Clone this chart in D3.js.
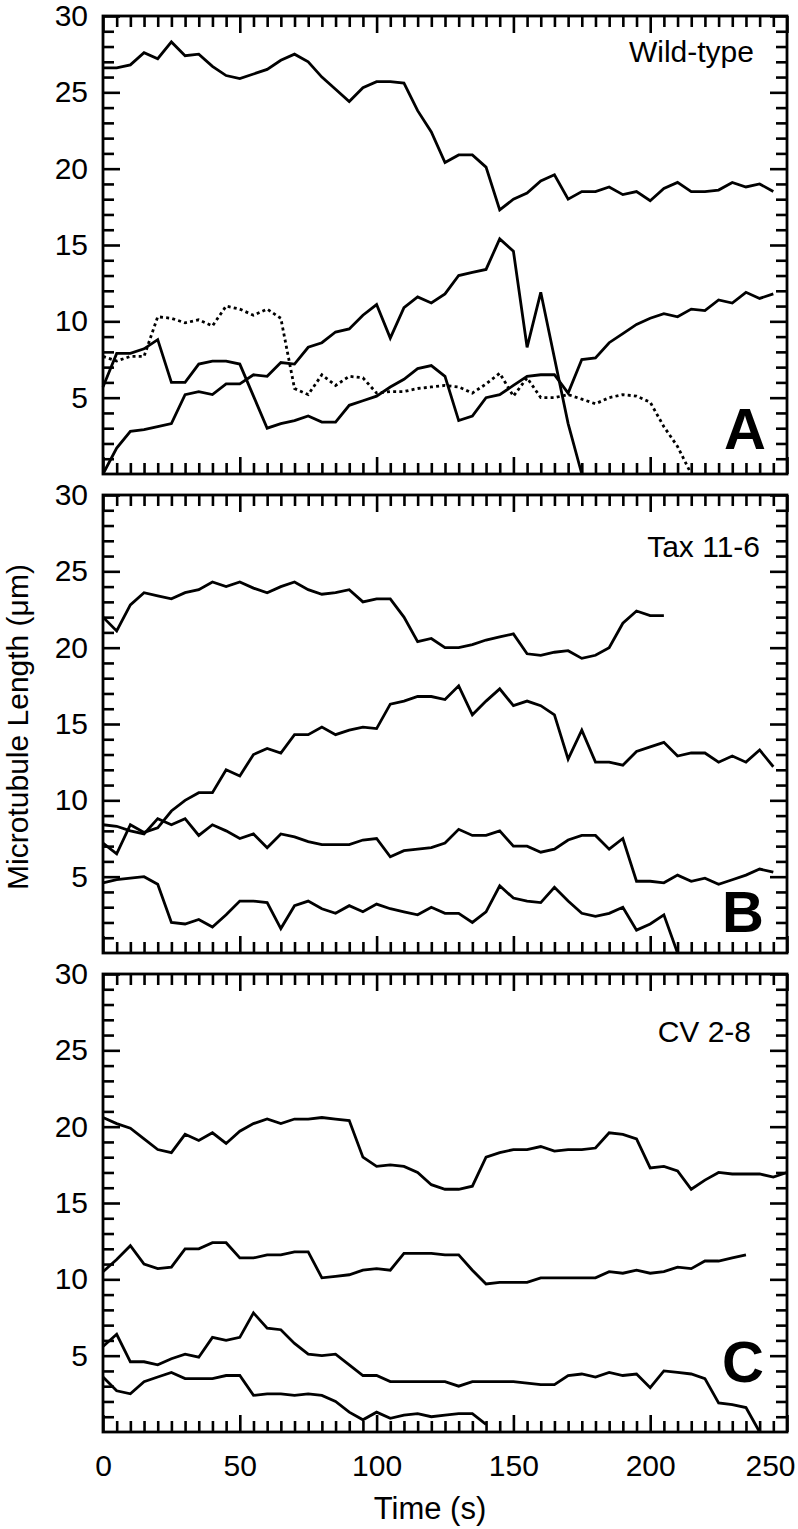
<!DOCTYPE html>
<html>
<head>
<meta charset="utf-8">
<script src="https://cdn.jsdelivr.net/npm/d3@7"></script>
<style>
  body { margin: 0; background: #fff; }
  text { font-family: "Liberation Sans", Arial, Helvetica, sans-serif; fill: #000; }
</style>
</head>
<body>
<svg id="chart"></svg>
<script>
// sample times (s), one point every 5 s
var time = [0, 5, 10, 15, 20, 25, 30, 35, 40, 45, 50, 55, 60, 65, 70, 75, 80, 85, 90, 95,
            100, 105, 110, 115, 120, 125, 130, 135, 140, 145, 150, 155, 160, 165, 170, 175,
            180, 185, 190, 195, 200, 205, 210, 215, 220, 225, 230, 235, 240, 245, 250];

// microtubule lengths (um), panel A wild-type
var wt1 = [26.6, 26.6, 26.8, 27.6, 27.2, 28.3, 27.4, 27.5, 26.7, 26.1,
           25.9, 26.2, 26.5, 27.1, 27.5, 27.0, 26.0, 25.2, 24.4, 25.3,
           25.7, 25.7, 25.6, 23.8, 22.4, 20.4, 20.9, 20.9, 20.1, 17.3,
           18.0, 18.4, 19.2, 19.6, 18.0, 18.5, 18.5, 18.8, 18.3, 18.5,
           17.9, 18.7, 19.1, 18.5, 18.5, 18.6, 19.1, 18.8, 19.0, 18.5];
var wt2 = [5.7, 7.9, 7.9, 8.2, 8.8, 6.0, 6.0, 7.2, 7.4, 7.4,
           7.2, 5.1, 3.0, 3.3, 3.5, 3.8, 3.4, 3.4, 4.5, 4.8,
           5.1, 5.7, 6.2, 6.9, 7.1, 6.4, 3.5, 3.8, 5.0, 5.2,
           5.8, 6.4, 6.5, 6.5, 5.3, 7.5, 7.6, 8.6, 9.2, 9.8,
           10.2, 10.5, 10.3, 10.8, 10.7, 11.4, 11.2, 11.9, 11.5, 11.8];
var wt3 = [0, 1.7, 2.8, 2.9, 3.1, 3.3, 5.2, 5.4, 5.2, 5.9,
           5.9, 6.5, 6.4, 7.3, 7.2, 8.3, 8.6, 9.3, 9.5, 10.4,
           11.1, 8.9, 10.9, 11.6, 11.2, 11.8, 13.0, 13.2, 13.4, 15.4,
           14.6, 8.3, 11.9, 7.6, 3.3, 0];
var wt4 = [7.7, 7.4, 7.7, 7.7, 10.3, 10.2, 9.9, 10.1, 9.7, 11.0,
           10.8, 10.4, 10.8, 10.2, 5.6, 5.2, 6.5, 5.8, 6.4, 6.3,
           5.3, 5.4, 5.4, 5.6, 5.7, 5.8, 5.7, 5.3, 5.9, 6.6,
           5.1, 6.3, 5.0, 5.0, 5.2, 4.9, 4.6, 5.0, 5.2, 5.1,
           4.7, 3.1, 1.8, 0];

// panel B, Tax 11-6
var tax1 = [22.0, 21.1, 22.8, 23.6, 23.4, 23.2, 23.6, 23.8, 24.3, 24.0,
            24.3, 23.9, 23.6, 24.0, 24.3, 23.8, 23.5, 23.6, 23.8, 23.0,
            23.2, 23.2, 22.0, 20.4, 20.6, 20.0, 20.0, 20.2, 20.5, 20.7,
            20.9, 19.6, 19.5, 19.7, 19.8, 19.3, 19.5, 20.0, 21.6, 22.4,
            22.1, 22.1];
var tax2 = [7.2, 6.5, 8.4, 7.9, 8.2, 9.3, 10.0, 10.5, 10.5, 12.0,
            11.6, 13.0, 13.4, 13.1, 14.3, 14.3, 14.8, 14.3, 14.6, 14.8,
            14.7, 16.3, 16.5, 16.8, 16.8, 16.6, 17.5, 15.6, 16.5, 17.3,
            16.2, 16.5, 16.2, 15.6, 12.7, 14.6, 12.5, 12.5, 12.3, 13.2,
            13.5, 13.8, 12.9, 13.1, 13.1, 12.5, 12.9, 12.5, 13.3, 12.2];
var tax3 = [8.4, 8.3, 8.0, 7.8, 8.8, 8.4, 8.8, 7.7, 8.4, 8.0,
            7.5, 7.8, 6.9, 7.8, 7.6, 7.3, 7.1, 7.1, 7.1, 7.4,
            7.5, 6.3, 6.7, 6.8, 6.9, 7.2, 8.1, 7.7, 7.7, 8.0,
            7.0, 7.0, 6.6, 6.8, 7.4, 7.7, 7.7, 6.8, 7.5, 4.7,
            4.7, 4.6, 5.1, 4.7, 4.9, 4.5, 4.8, 5.1, 5.5, 5.3];
var tax4 = [4.6, 4.8, 4.9, 5.0, 4.5, 2.0, 1.9, 2.2, 1.7, 2.5,
            3.4, 3.4, 3.3, 1.6, 3.1, 3.4, 2.9, 2.6, 3.1, 2.7,
            3.2, 2.9, 2.7, 2.5, 3.0, 2.6, 2.6, 2.0, 2.7, 4.4,
            3.6, 3.4, 3.3, 4.3, 3.4, 2.6, 2.4, 2.6, 3.0, 1.5,
            1.9, 2.5, 0];

// panel C, CV 2-8
var cv1 = [20.6, 20.2, 19.9, 19.2, 18.5, 18.3, 19.5, 19.1, 19.6, 18.9,
           19.7, 20.2, 20.5, 20.2, 20.5, 20.5, 20.6, 20.5, 20.4, 18.0,
           17.4, 17.5, 17.4, 17.0, 16.2, 15.9, 15.9, 16.1, 18.0, 18.3,
           18.5, 18.5, 18.7, 18.4, 18.5, 18.5, 18.6, 19.6, 19.5, 19.2,
           17.3, 17.4, 17.1, 15.9, 16.5, 17.0, 16.9, 16.9, 16.9, 16.7, 17.0];
var cv2 = [10.5, 11.3, 12.2, 11.0, 10.7, 10.8, 12.0, 12.0, 12.4, 12.4,
           11.4, 11.4, 11.6, 11.6, 11.8, 11.8, 10.1, 10.2, 10.3, 10.6,
           10.7, 10.6, 11.7, 11.7, 11.7, 11.6, 11.6, 10.6, 9.7, 9.8,
           9.8, 9.8, 10.1, 10.1, 10.1, 10.1, 10.1, 10.5, 10.4, 10.6,
           10.4, 10.5, 10.8, 10.7, 11.2, 11.2, 11.4, 11.6];
var cv3 = [5.6, 6.4, 4.6, 4.6, 4.4, 4.8, 5.1, 4.9, 6.2, 6.0,
           6.2, 7.8, 6.8, 6.7, 5.8, 5.1, 5.0, 5.1, 4.4, 3.7,
           3.7, 3.3, 3.3, 3.3, 3.3, 3.3, 3.0, 3.3, 3.3, 3.3,
           3.3, 3.2, 3.1, 3.1, 3.7, 3.8, 3.6, 3.9, 3.7, 3.8,
           2.9, 4.0, 3.9, 3.8, 3.5, 1.9, 1.8, 1.6, 0];
var cv4 = [3.6, 2.7, 2.5, 3.3, 3.6, 3.9, 3.5, 3.5, 3.5, 3.7,
           3.7, 2.4, 2.5, 2.5, 2.4, 2.5, 2.4, 2.0, 1.3, 0.8,
           1.3, 0.9, 1.1, 1.2, 1.0, 1.1, 1.2, 1.2, 0.5];

var panelNames = ["Wild-type", "Tax 11-6", "CV 2-8"];
var panelLetters = ["A", "B", "C"];
var xTicks = [0, 50, 100, 150, 200, 250];
var yTicks = [5, 10, 15, 20, 25, 30];

var panels = [
    {series: [wt1, wt2, wt3, wt4], dotted: [false, false, false, true]},
    {series: [tax1, tax2, tax3, tax4], dotted: [false, false, false, false]},
    {series: [cv1, cv2, cv3, cv4], dotted: [false, false, false, false]}
];

var width = 798, height = 1529,
    left = 103, right = 787,
    panelH = 458,
    panelTops = [16, 495, 974],
    nameY = [46, 62, 68], nameX = [754, 760, 751],
    letterY = [433, 437, 408], letterX = [766, 764, 764],
    minorLen = 11, majorLen = 17,
    lw = 2.8;

var svg = d3.select("#chart")
    .attr("width", width)
    .attr("height", height);

var x = d3.scaleLinear().domain([0, 250]).range([left, right]);

function tickGroup(g, axis, tx, ty, values, len, labels, pad) {
    var a = g.append("g")
        .attr("transform", "translate(" + tx + "," + ty + ")")
        .call(axis.tickValues(values)
            .tickSizeInner(-len)
            .tickSizeOuter(0)
            .tickPadding(pad || 0)
            .tickFormat(labels ? d3.format("d") : ""));
    a.select(".domain").remove();
    a.selectAll("line").attr("stroke", "#000").attr("stroke-width", 2.6);
    a.selectAll("text").attr("font-size", 30).attr("fill", "#000");
    return a;
}

panels.forEach(function (p, i) {
    var top = panelTops[i],
        bottom = top + panelH;
    var y = d3.scaleLinear().domain([0, 30]).range([bottom, top]);
    var g = svg.append("g");

    var minorY = d3.range(0, 31).filter(function (v) { return v % 5 !== 0; }),
        minorX = d3.range(0, 251, 5).filter(function (v) { return v % 50 !== 0; });

    // ticks on all four sides, pointing in
    tickGroup(g, d3.axisLeft(y), left, 0, minorY, minorLen);
    tickGroup(g, d3.axisLeft(y), left, 0, yTicks, majorLen, true, 15);
    tickGroup(g, d3.axisRight(y), right, 0, minorY, minorLen);
    tickGroup(g, d3.axisRight(y), right, 0, yTicks, majorLen);
    tickGroup(g, d3.axisTop(x), 0, top, minorX, minorLen);
    tickGroup(g, d3.axisTop(x), 0, top, xTicks, majorLen);
    tickGroup(g, d3.axisBottom(x), 0, bottom, minorX, minorLen);
    var bx = tickGroup(g, d3.axisBottom(x), 0, bottom, xTicks, majorLen, i === 2, 23);
    if (i === 2) {
        // last label pulled in so it stays on the page
        bx.selectAll("text").filter(function (d) { return d === 250; }).attr("dx", -17);
    }

    g.append("rect")
        .attr("x", left).attr("y", top)
        .attr("width", right - left).attr("height", panelH)
        .attr("fill", "none").attr("stroke", "#000").attr("stroke-width", lw);

    var line = d3.line()
        .x(function (d, j) { return x(time[j]); })
        .y(function (d) { return y(d); });

    p.series.forEach(function (s, k) {
        g.append("path")
            .attr("d", line(s))
            .attr("fill", "none")
            .attr("stroke", "#000")
            .attr("stroke-width", lw)
            .attr("stroke-dasharray", p.dotted[k] ? "3,3.2" : null);
    });

    g.append("text")
        .attr("x", nameX[i]).attr("y", top + nameY[i])
        .attr("text-anchor", "end")
        .attr("font-size", 30)
        .text(panelNames[i]);

    g.append("text")
        .attr("x", letterX[i]).attr("y", top + letterY[i])
        .attr("text-anchor", "end")
        .attr("font-size", 58)
        .attr("font-weight", "bold")
        .text(panelLetters[i]);
});

svg.append("text")
    .attr("transform", "translate(28,727) rotate(-90)")
    .attr("text-anchor", "middle")
    .attr("font-size", 30)
    .text("Microtubule Length (\u03bcm)");

svg.append("text")
    .attr("x", 430).attr("y", 1519)
    .attr("text-anchor", "middle")
    .attr("font-size", 31)
    .text("Time (s)");
</script>
</body>
</html>
